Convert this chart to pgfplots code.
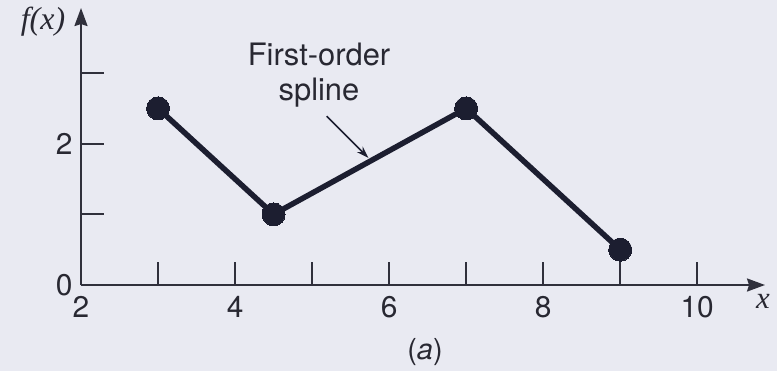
\documentclass[border=0pt]{standalone}
\usepackage{pgfplots}
\pgfplotsset{compat=1.18}
\usepackage{fontspec}
\setmainfont{TeX Gyre Heros}
\newfontfamily\tnr{Liberation Serif}
\usetikzlibrary{arrows.meta}

\definecolor{bg}{RGB}{233,234,242}
\definecolor{ink}{RGB}{28,30,48}
\definecolor{axisgray}{RGB}{48,48,60}
\definecolor{labelgray}{RGB}{40,40,50}

\begin{document}
\begin{tikzpicture}[x=1bp,y=1bp]
\fill[bg] (0,0) rectangle (777,371);
\useasboundingbox (0,0) rectangle (777,371);
\begin{axis}[
  at={(81bp,86bp)}, anchor=south west,
  scale only axis, width=684bp, height=277bp,
  xmin=2, xmax=10.88, ymin=0, ymax=3.92,
  axis lines=left,
  axis line style={line width=2.2bp, draw=axisgray, -{Stealth[length=18bp,width=13bp,inset=2bp]}},
  xtick={2,...,10}, xticklabels={2,,4,,6,,8,,10},
  ytick={0,1,2,3}, yticklabels={0,,2,},
  tick align=inside, major tick length=23bp,
  tick style={line width=2bp, draw=axisgray},
  tick label style={font=\fontsize{30}{35}\selectfont, text=labelgray},
  xticklabel style={yshift=-8bp},
  yticklabel style={xshift=-5bp},
  /pgf/number format/assume math mode=true,
  clip=false,
]
% piecewise-linear interpolant through the data points
\addplot[ink, line width=5.5bp, mark=*, mark size=11.5bp,
  mark options={fill=ink, draw=ink, line width=0pt}]
  coordinates {(3,2.5) (4.5,1) (7,2.5) (9,0.5)};
\draw[line width=1.6bp, ink, -{Stealth[length=12bp,width=8bp]}]
  (axis cs:5.19,2.39) -- (axis cs:5.73,1.80);
\end{axis}
\node[anchor=base, font=\fontsize{31}{36}\selectfont, text=labelgray] at (319,306) {First-order};
\node[anchor=base, font=\fontsize{31}{36}\selectfont, text=labelgray] at (319,271) {spline};
\node[font=\fontsize{32}{36}\selectfont, text=labelgray] at (43,349) {\tnr\itshape f(x)};
\node[font=\fontsize{31}{36}\selectfont, text=labelgray] at (763,70) {\tnr\itshape x};
\node[font=\fontsize{29}{34}\selectfont, text=labelgray] at (425,19) {(\textit{a})};
\end{tikzpicture}
\end{document}
